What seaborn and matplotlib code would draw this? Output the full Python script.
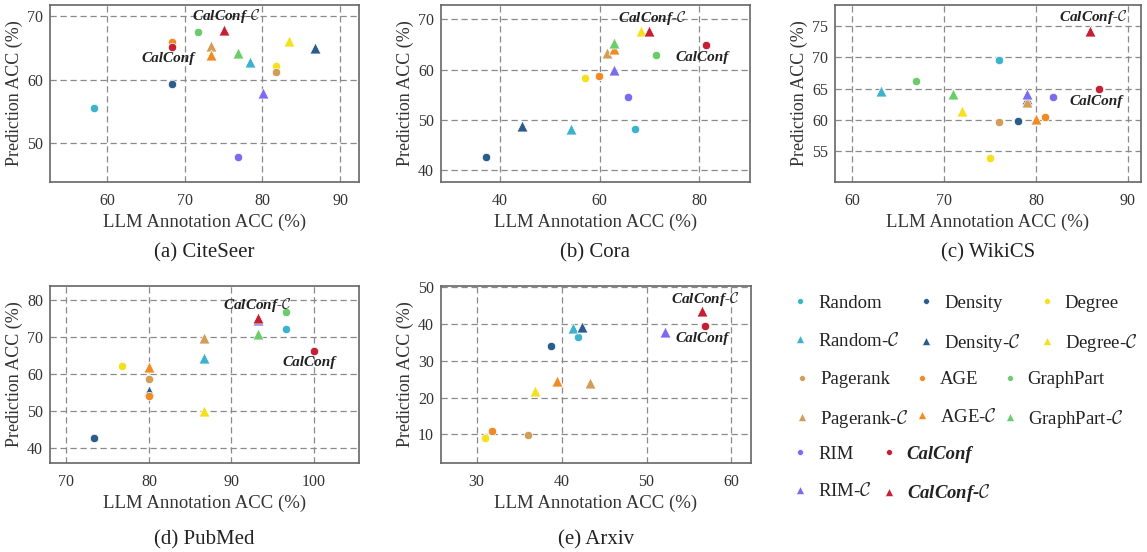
import numpy as np
import pandas as pd
import matplotlib
matplotlib.use("Agg")
import matplotlib.pyplot as plt
from matplotlib.lines import Line2D
import seaborn as sns

# ---------------- data ----------------
methods = ["Random", "Random-C", "Density", "Density-C", "Degree", "Degree-C",
           "Pagerank", "Pagerank-C", "AGE", "AGE-C", "GraphPart", "GraphPart-C",
           "RIM", "RIM-C", "CalConf", "CalConf-C"]
base_colors = {"Random": "#3cb2cc", "Density": "#2b5c8a", "Degree": "#f4e01c",
               "Pagerank": "#d19d57", "AGE": "#f28a24", "GraphPart": "#6acc6a",
               "RIM": "#7a6cf0", "CalConf": "#c41f33"}

nan = np.nan
citeseer_x = [58.4, 78.4, 68.4, 86.7, 81.7, 83.4, 81.7, 73.4, 68.4, 73.4, 71.7, 76.8, 76.8, 80.1, 68.4, 75.1]
citeseer_y = [55.5, 62.8, 59.3, 65.1, 62.2, 66.2, 61.3, 65.3, 65.9, 63.9, 67.5, 64.3, 47.8, 58.0, 65.2, 67.8]
cora_x = [67.1, 54.2, 37.1, 44.3, 57.1, 68.3, 59.9, 61.4, 59.9, 62.8, 71.3, 62.8, 65.6, 62.8, 81.4, 70.0]
cora_y = [48.2, 48.2, 42.7, 48.8, 58.3, 67.7, 58.8, 63.2, 58.8, 64.0, 62.8, 65.2, 54.5, 60.0, 64.8, 67.7]
wikics_x = [76.0, 63.1, 78.0, 79.0, 75.0, 72.0, 76.0, 79.0, 81.0, 80.0, 67.0, 71.0, 81.9, 79.0, 86.9, 85.9]
wikics_y = [69.6, 64.6, 59.9, 63.3, 54.0, 61.4, 59.7, 62.9, 60.4, 60.1, 66.2, 64.1, 63.6, 64.1, 64.9, 74.2]
pubmed_x = [96.6, 86.7, 73.4, 80.0, 76.7, 86.7, 80.0, 86.7, 80.0, 80.0, 96.6, 93.3, 100.0, 93.3, 100.0, 93.3]
pubmed_y = [72.3, 64.5, 42.7, 55.4, 62.2, 49.9, 58.6, 69.7, 54.0, 61.8, 76.8, 70.9, 66.4, 74.8, 66.4, 75.1]
arxiv_x = [41.9, 41.3, 38.8, 42.4, 31.0, 36.9, 36.1, 43.3, 31.8, 39.4, nan, nan, nan, 52.2, 56.9, 56.5]
arxiv_y = [36.6, 39.0, 34.0, 39.1, 9.1, 21.8, 9.9, 24.1, 10.8, 24.4, nan, nan, nan, 37.8, 39.5, 43.5]

datasets = ["(a) CiteSeer", "(b) Cora", "(c) WikiCS", "(d) PubMed", "(e) Arxiv"]
xs = [citeseer_x, cora_x, wikics_x, pubmed_x, arxiv_x]
ys = [citeseer_y, cora_y, wikics_y, pubmed_y, arxiv_y]

xticks = [[60, 70, 80, 90], [40, 60, 80], [60, 70, 80, 90], [70, 80, 90, 100], [30, 40, 50, 60]]
yticks = [[50, 60, 70], [40, 50, 60, 70], [55, 60, 65, 70, 75], [40, 50, 60, 70, 80], [10, 20, 30, 40, 50]]
xlims = [(52.7, 92.4), (28.1, 90.2), (58.1, 91.4), (68.0, 105.5), (25.8, 62.3)]
ylims = [(43.9, 71.8), (37.7, 72.8), (50.1, 78.35), (35.9, 83.9), (2.2, 50.4)]
# annotation anchors (data coords): CalConf-C label, CalConf label
lab_cc = [(75.4, 70.0), (70.5, 70.2), (86.2, 76.4), (93.2, 78.7), (56.9, 46.8)]
lab_c = [(67.9, 63.3), (80.5, 62.3), (86.6, 62.9), (99.5, 63.2), (56.5, 36.2)]

# ---------------- style ----------------
sns.set_theme(style="whitegrid")
plt.rcParams["font.family"] = ["Liberation Serif", "DejaVu Serif"]
plt.rcParams["mathtext.fontset"] = "cm"
plt.rcParams.update({
    "axes.edgecolor": "#666666", "axes.linewidth": 1.2,
    "grid.color": "#8a8a8a", "grid.linestyle": (0, (5, 3)), "grid.linewidth": 0.9,
    "xtick.color": "#333333", "ytick.color": "#333333",
    "axes.labelcolor": "#333333", "text.color": "#222222",
})

W, H = 1147, 552
fig = plt.figure(figsize=(W / 100, H / 100), dpi=100)
boxes_px = [(50, 5, 359, 182), (441, 5, 750, 182), (834.7, 5, 1140.7, 182),
            (50, 286, 359, 463), (441, 286, 751, 463)]


def disp(m):
    return m.replace("-C", r"-$\mathcal{C}$")


for i in range(5):
    l, t, r, b = boxes_px[i]
    ax = fig.add_axes([l / W, 1 - b / H, (r - l) / W, (b - t) / H])
    df = pd.DataFrame({"method": methods, "x": xs[i], "y": ys[i]})
    for m in methods:
        row = df[df["method"] == m]
        if row["x"].isna().all():
            continue
        tri = m.endswith("-C")
        sns.scatterplot(data=row, x="x", y="y", ax=ax,
                        color=base_colors[m.replace("-C", "")],
                        marker="^" if tri else "o", s=62 if tri else 36,
                        edgecolor="white", linewidth=0.5, zorder=3, legend=False)
    ax.set_xlim(*xlims[i])
    ax.set_ylim(*ylims[i])
    ax.set_xticks(xticks[i])
    ax.set_yticks(yticks[i])
    ax.tick_params(axis="both", labelsize=11.5, length=0)
    ax.tick_params(axis="x", pad=8)
    ax.tick_params(axis="y", pad=5)
    ax.set_xlabel("LLM Annotation ACC (%)", fontsize=13.5, labelpad=3)
    ax.set_ylabel("Prediction ACC (%)", fontsize=13, labelpad=3)
    ax.grid(True, zorder=0)
    for sp in ax.spines.values():
        sp.set_color("#666666")
    ax.text(lab_cc[i][0], lab_cc[i][1], r"CalConf-$\mathcal{C}$", fontsize=11,
            fontweight="bold", fontstyle="italic", ha="center", va="center", zorder=4)
    ax.text(lab_c[i][0], lab_c[i][1], "CalConf", fontsize=11,
            fontweight="bold", fontstyle="italic", ha="center", va="center", zorder=4)
    cy = -0.40 if i < 3 else -0.435
    ax.text(0.5, cy, datasets[i], transform=ax.transAxes, ha="center", va="center",
            fontsize=15)

# ---------------- legends ----------------
groups = [["Random", "Density", "Degree"], ["Pagerank", "AGE", "GraphPart"], ["RIM", "CalConf"]]
centers = [0.4125, 0.2745, 0.1395]
xanchors = [791, 793, 791]
colspacings = [0.9, 0.22, 0.4]
for g, cy, xa, cs in zip(groups, centers, xanchors, colspacings):
    handles, labels = [], []
    for m in g:
        for suffix, mk, ms in (("", "o", 4.2), ("-C", "^", 6.0)):
            handles.append(Line2D([], [], linestyle="none", marker=mk, markersize=ms,
                                  markerfacecolor=base_colors[m], markeredgecolor="white",
                                  markeredgewidth=0.4))
            labels.append(disp(m + suffix))
    leg = fig.legend(handles, labels, ncol=len(g), loc="center left",
                     bbox_to_anchor=(xa / W, cy), bbox_transform=fig.transFigure,
                     frameon=False, fontsize=13.5, handlelength=1.0, handletextpad=0.45,
                     columnspacing=cs, labelspacing=1.05, borderpad=0, borderaxespad=0)
    for txt in leg.get_texts():
        if txt.get_text().startswith("CalConf"):
            txt.set_fontweight("bold")
            txt.set_fontstyle("italic")

fig.savefig("out.png", dpi=100)
